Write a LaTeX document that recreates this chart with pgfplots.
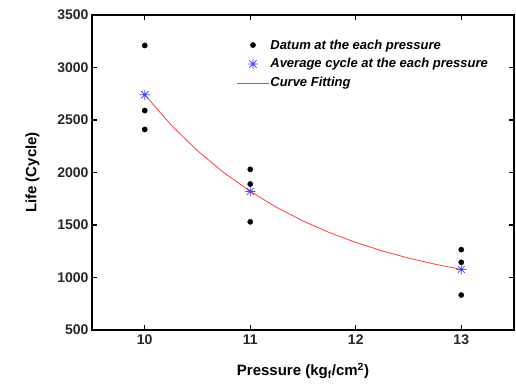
\documentclass[border=0pt]{standalone}
\usepackage{pgfplots}
\pgfplotsset{compat=1.18}
\usetikzlibrary{calc}
\usepackage{fontspec}
\setmainfont{Liberation Sans}
\definecolor{starblue}{RGB}{70,70,255}
\definecolor{fitred}{RGB}{255,60,60}
\pgfdeclareplotmark{star8}{%
  \pgfpathmoveto{\pgfqpoint{0pt}{\pgfplotmarksize}}\pgfpathlineto{\pgfqpoint{0pt}{-\pgfplotmarksize}}%
  \pgfpathmoveto{\pgfqpoint{\pgfplotmarksize}{0pt}}\pgfpathlineto{\pgfqpoint{-\pgfplotmarksize}{0pt}}%
  \pgfpathmoveto{\pgfqpoint{0.707\pgfplotmarksize}{0.707\pgfplotmarksize}}\pgfpathlineto{\pgfqpoint{-0.707\pgfplotmarksize}{-0.707\pgfplotmarksize}}%
  \pgfpathmoveto{\pgfqpoint{0.707\pgfplotmarksize}{-0.707\pgfplotmarksize}}\pgfpathlineto{\pgfqpoint{-0.707\pgfplotmarksize}{0.707\pgfplotmarksize}}%
  \pgfusepathqstroke}
\begin{document}
\begin{tikzpicture}
\begin{axis}[
  scale only axis,
  width=422pt, height=315pt,
  xmin=9.5, xmax=13.5,
  ymin=500, ymax=3500,
  xtick={10,11,12,13},
  ytick={500,1000,1500,2000,2500,3000,3500},
  tick align=inside,
  major tick length=5pt,
  axis line style={line width=1.6pt},
  every tick/.style={black, line width=1.2pt},
  /pgf/number format/assume math mode=true,
  /pgf/number format/1000 sep={},
  tick label style={font=\bfseries\fontsize{14}{16}\selectfont, text=black!85},
  xticklabel style={yshift=-1pt},
  xlabel={Pressure (kg$_{\mathbf{f}}$/cm$^{\mathbf{2}}$)},
  ylabel={Life (Cycle)},
  label style={font=\bfseries\fontsize{15}{17}\selectfont},
  xlabel style={yshift=-12pt},
  ylabel style={yshift=11pt},
  legend style={draw=none, fill=none, at={(rel axis cs:0.335,0.932)}, anchor=north west,
    font=\bfseries\itshape\fontsize{13}{15}\selectfont, row sep=6pt,
    nodes={inner sep=1pt}},
  legend cell align=left,
  legend image code/.code={\draw[mark repeat=2,mark phase=2,#1] plot coordinates {(0pt,0pt) (16pt,0pt) (32pt,0pt)};},
]
\coordinate (bl) at (rel axis cs:0,0);
\coordinate (tr) at (rel axis cs:1,1);
\addplot[only marks, mark=*, mark size=2.6pt, black] coordinates {
 (10,3210) (10,2590) (10,2410)
 (11,2030) (11,1890) (11,1530)
 (13,1265) (13,1145) (13,833)
};
\addlegendentry{Datum at the each pressure}
\addplot[only marks, mark=star8, mark size=5pt, starblue, line width=0.8pt] coordinates {
 (10,2740) (11,1820) (13,1077)
};
\addlegendentry{Average cycle at the each pressure}
\addplot[fitred, line width=0.8pt] coordinates {
 (10,2740) (10.25,2452) (10.5,2207) (10.75,1998) (11,1820) (11.25,1668)
 (11.5,1538) (11.75,1428) (12,1334) (12.25,1253) (12.5,1185) (12.75,1127) (13,1077)
};
\addlegendentry{Curve Fitting}
\end{axis}
\pgfresetboundingbox
\path[use as bounding box] ($(bl)+(-92pt,-56pt)$) rectangle ($(tr)+(2pt,15pt)$);
\end{tikzpicture}
\end{document}
